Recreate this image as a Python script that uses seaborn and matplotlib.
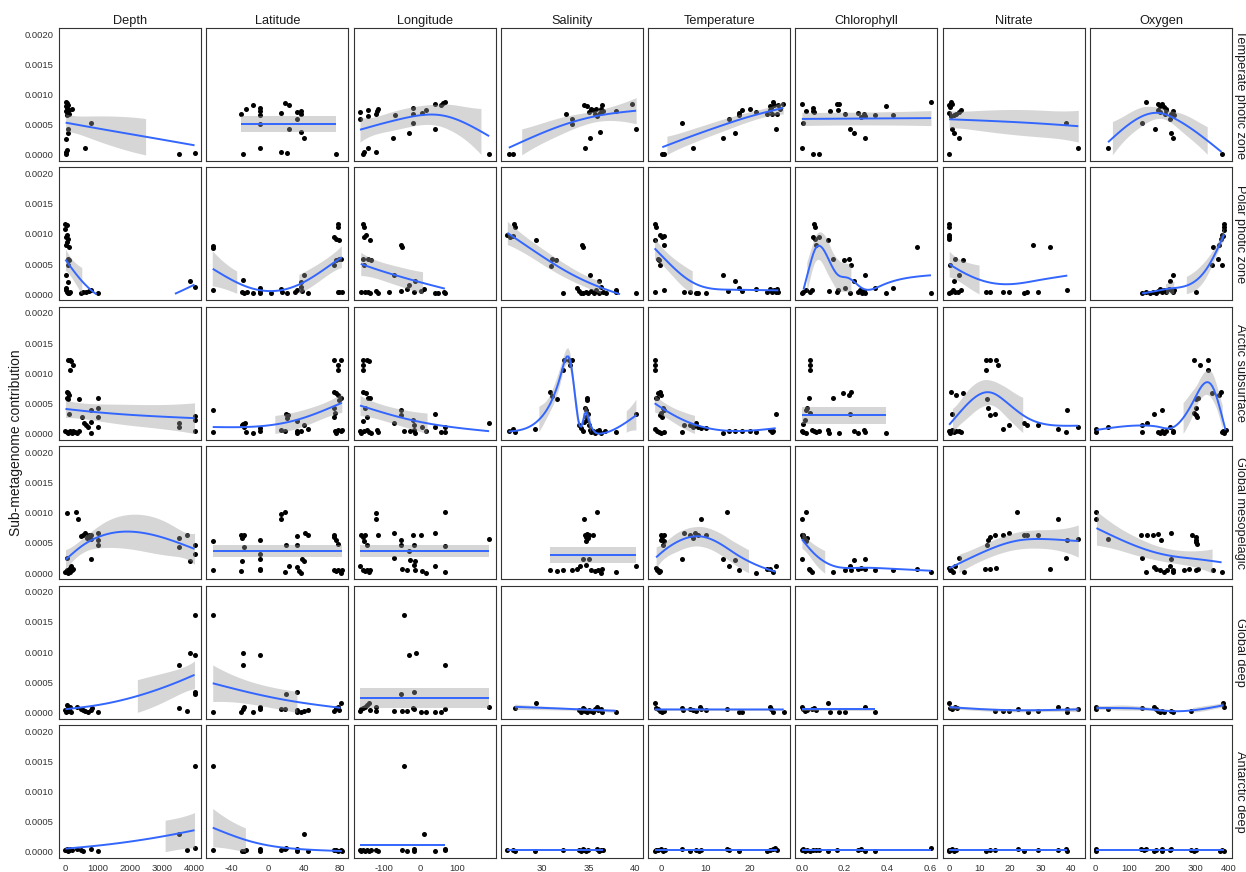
import numpy as np
import pandas as pd
import matplotlib
matplotlib.use("Agg")
import matplotlib.pyplot as plt
import seaborn as sns

# ---------------------------------------------------------------------------
# Data: (environmental value, contribution in units of 1e-4) per panel
# ---------------------------------------------------------------------------
SCALE = 1e-4

zones = ["Temperate photic zone", "Polar photic zone", "Arctic subsurface",
         "Global mesopelagic", "Global deep", "Antarctic deep"]
variables = ["Depth", "Latitude", "Longitude", "Salinity", "Temperature",
             "Chlorophyll", "Nitrate", "Oxygen"]

# Temperate photic zone
temperate_depth = [(5, 8.83), (40, 8.6), (80, 8.28), (10, 8.07), (40, 7.74), (100, 7.52), (10, 7.3),
                   (60, 7.08), (110, 6.81), (190, 7.63), (40, 6.54), (77, 4.25), (77, 3.7), (13, 2.7),
                   (40, 0.76), (13, 0.44), (5, 0.16), (600, 1.09), (805, 5.23), (3515, 0.11), (4000, 0.33)]
temperate_lat = [(-30.2, 6.76), (-24.7, 7.63), (-16.5, 8.28), (-8.2, 7.74), (-8.2, 7.19), (-8.2, 6.54),
                 (-8.2, 5.18), (-8.2, 1.09), (-27.4, 0.11), (14.6, 6.87), (14.6, 0.54), (21.5, 0.33),
                 (19.2, 8.61), (23.8, 8.28), (23.8, 4.25), (32, 5.99), (32.9, 7.08), (36.6, 7.3),
                 (36.6, 6.76), (36.6, 3.81), (39.8, 2.83), (75.9, 0.11)]
temperate_lon = [(-166, 7.08), (-166, 5.99), (-145, 6.43), (-145, 7.52), (-119, 7.19), (-117, 7.63),
                 (-122, 6.81), (-158, 0.22), (-155, 0.44), (-145, 1.09), (-121, 0.54), (-76, 2.83),
                 (-71, 6.54), (-31, 3.7), (-20, 7.74), (-20, 6.81), (-20, 5.23), (4.5, 6.97), (13.5, 7.36),
                 (38, 8.39), (38, 4.36), (55, 8.28), (61, 8.55), (66, 8.72), (187, 0.11)]
temperate_sal = [(26.5, 0.11), (26.9, 0.11), (32.6, 6.81), (33.2, 5.99), (33.3, 5.18), (34.5, 8.28),
                 (34.6, 1.09), (34.85, 8.17), (35.1, 7.08), (35.15, 2.83), (35.3, 7.63), (35.5, 7.36),
                 (35.7, 6.81), (35.86, 7.63), (35.95, 6.43), (36.2, 3.81), (36.2, 6.97), (36.4, 7.63),
                 (36.5, 8.28), (36.6, 7.19), (37.9, 7.3), (39.7, 8.39), (40.1, 4.36)]
temperate_temp = [(0.26, 0.11), (0.6, 0.11), (4.63, 5.23), (7.25, 1.09), (14.06, 2.83), (15.3, 5.99),
                  (16.7, 3.7), (17.5, 6.65), (17.7, 6.97), (18.3, 7.36), (20.1, 7.63), (21.4, 7.08),
                  (24.0, 6.81), (24.7, 8.07), (24.9, 7.74), (25.3, 8.72), (25.6, 8.28), (24.5, 7.36),
                  (25.1, 6.81), (25.9, 4.36), (26.3, 6.81), (26.5, 8.28), (26.8, 7.63), (27.6, 8.39)]
temperate_chl = [(0.0, 8.39), (0.018, 7.3), (0.054, 7.85), (0.05, 7.19), (0.057, 7.08), (0.004, 5.23),
                 (0.0, 1.09), (0.054, 0.11), (0.079, 0.11), (0.133, 7.3), (0.165, 8.39), (0.169, 7.52),
                 (0.174, 8.39), (0.2, 6.81), (0.225, 4.36), (0.246, 3.7), (0.264, 6.97), (0.277, 6.21),
                 (0.29, 6.81), (0.295, 6.43), (0.296, 2.83), (0.34, 6.54), (0.393, 8.17), (0.424, 6.65),
                 (0.604, 8.72)]
temperate_nit = [(0, 8.28), (0.4, 7.9), (0.76, 8.72), (1.0, 8.39), (0, 6.97), (0.6, 6.43), (1.5, 6.54),
                 (2.3, 6.81), (3.2, 7.08), (3.8, 7.52), (1.0, 4.36), (1.5, 3.7), (3.3, 2.83), (0, 0.11),
                 (38.4, 5.23), (42.3, 1.09)]
temperate_oxy = [(37.4, 1.09), (140, 5.23), (152, 8.72), (178, 4.36), (187, 8.39), (193, 8.17), (199, 8.39),
                 (205, 7.9), (187, 7.52), (193, 7.08), (211, 7.63), (208, 6.81), (213, 7.36), (225, 5.99),
                 (228, 6.81), (234, 7.19), (236, 6.54), (226, 3.7), (232, 2.83), (380, 0.11)]

# Polar photic zone
polar_depth = [(0, 11.67), (38, 11.4), (0, 10.85), (38, 9.86), (13, 9.48), (64, 9.1), (38, 8.66), (13, 8.22),
               (100, 7.84), (77, 5.92), (100, 5.64), (64, 4.82), (5, 3.18), (77, 2.08), (5, 0.99), (13, 0.71),
               (38, 0.44), (77, 0.27), (100, 0.16), (150, 0.44), (486, 0.16), (550, 0.33), (640, 0.44),
               (716, 0.55), (805, 0.71), (997, 0.16), (3847, 2.25), (4000, 1.26)]
polar_lat = [(-61.2, 8.0), (-61.2, 7.67), (-61.2, 0.66), (-27.9, 2.3), (-28.8, 0.44), (-26.5, 0.16),
             (-23.3, 0.44), (-16.5, 0.16), (-9.1, 1.1), (-8.2, 0.55), (-8.2, 0.16), (3.2, 0.16), (14.6, 0.88),
             (15.5, 0.33), (21.5, 0.16), (30.6, 0.44), (32.9, 0.77), (36.6, 2.08), (36.6, 1.26), (39.8, 3.18),
             (37.5, 0.55), (44.3, 0.27), (74, 9.48), (76.3, 9.2), (77.7, 11.67), (78.6, 11.1), (79.5, 8.93),
             (74, 4.82), (76.3, 5.64), (79.5, 5.92), (81.3, 5.92), (77.7, 0.44), (79.5, 0.44), (82.3, 0.44)]
polar_lon = [(-157, 11.67), (-155, 11.1), (-155, 9.48), (-149, 9.75), (-138, 9.04), (-157, 5.92),
             (-155, 4.82), (-144, 5.81), (-136, 5.75), (-164, 0.44), (-153, 0.33), (-144, 0.44), (-138, 0.16),
             (-121, 0.55), (-117, 0.16), (-88, 0.44), (-74, 3.18), (-54, 8.22), (-52, 7.84), (-54, 0.55),
             (-37, 0.88), (-31, 1.53), (-18, 0.33), (-15, 2.19), (2, 0.55), (10, 0.88), (38, 0.16),
             (47, 0.27), (63, 0.44), (66, 0.27)]
polar_sal = [(26.34, 9.75), (26.6, 9.48), (27.05, 11.6), (27.14, 11.1), (26.9, 9.64), (29.43, 8.93),
             (31.0, 4.71), (31.1, 5.92), (31.54, 5.75), (32.33, 0.27), (34.27, 8.22), (34.4, 7.84),
             (35.15, 3.18), (36.17, 2.19), (36.3, 1.26), (33.83, 0.99), (33.96, 0.55), (34.18, 0.27),
             (34.4, 0.16), (34.7, 0.44), (34.98, 0.16), (35.29, 0.55), (35.6, 0.27), (35.86, 0.71),
             (36.17, 0.27), (36.6, 0.44), (36.9, 0.16), (37.93, 0.71), (37.93, 0.44), (40.13, 0.27)]
polar_temp = [(-1.31, 11.67), (-1.14, 11.1), (-0.26, 9.86), (0.26, 9.48), (0.6, 9.64), (-1.48, 8.93),
              (0.6, 8.22), (-0.6, 5.92), (-0.44, 5.64), (-0.26, 4.82), (-1.31, 0.33), (0.6, 0.71), (5.07, 0.33),
              (6.55, 0.44), (7.86, 0.16), (8.3, 0.16), (10.2, 0.27), (14.06, 3.18), (15.1, 0.55), (16.7, 2.19),
              (17.5, 1.1), (18.3, 0.55), (21.4, 0.88), (24.0, 0.44), (24.7, 0.88), (25.1, 0.33), (25.6, 0.71),
              (25.9, 0.44), (26.3, 0.88), (26.5, 0.44)]
polar_chl = [(0, 0.16), (0.007, 0.44), (0.018, 0.71), (0.036, 0.33), (0.049, 0.71), (0.057, 11.67),
             (0.061, 11.1), (0.054, 9.48), (0.061, 9.2), (0.079, 9.48), (0.066, 8.22), (0.12, 8.93),
             (0.126, 0.55), (0.147, 5.81), (0.162, 0.44), (0.169, 0.71), (0.201, 1.1), (0.198, 5.64),
             (0.219, 5.92), (0.228, 4.82), (0.225, 0.27), (0.246, 2.19), (0.264, 0.44), (0.273, 0.71),
             (0.282, 0.27), (0.29, 0.55), (0.296, 3.18), (0.296, 0.16), (0.34, 0.99), (0.393, 0.16),
             (0.424, 1.1), (0.539, 7.84), (0.604, 0.27)]
polar_nit = [(0, 11.67), (0, 11.1), (0, 9.86), (0, 9.48), (0, 9.2), (0.38, 4.82), (2.0, 5.92), (4.6, 5.75),
             (3.3, 3.18), (1.5, 2.19), (0, 0.16), (0.6, 0.44), (1.3, 0.71), (1.9, 0.33), (2.8, 0.44),
             (3.8, 0.71), (12.1, 0.33), (13.3, 0.33), (17.8, 0.33), (19.7, 0.33), (24.4, 0.16), (25.4, 0.44),
             (29, 0.33), (27.4, 8.22), (33, 7.84), (38.7, 0.71)]
polar_oxy = [(140, 0.16), (152, 0.33), (164, 0.16), (173, 0.44), (181, 0.27), (187, 0.55), (193, 0.88),
             (199, 0.44), (205, 0.71), (211, 0.44), (222, 0.88), (228, 0.71), (234, 0.44), (225, 2.19),
             (232, 3.18), (236, 0.71), (304, 0.33), (354, 7.84), (372, 8.22), (351, 4.82), (368, 5.92),
             (380, 4.82), (377, 9.2), (384, 9.64), (386, 11.1), (386, 11.67), (380, 9.86), (388, 10.6)]

# Arctic subsurface
arctic_depth = [(77, 12.16), (141, 12.16), (166, 12.1), (230, 11.34), (141, 10.52), (38, 6.96), (77, 6.68),
                (100, 6.41), (38, 5.97), (77, 5.75), (100, 3.23), (0, 0.49), (38, 0.27), (77, 0.11),
                (141, 0.38), (192, 0.16), (230, 0.49), (294, 0.27), (358, 0.11), (422, 0.49), (422, 5.7),
                (511, 2.85), (588, 1.75), (640, 1.48), (703, 1.2), (805, 1.92), (805, 0.11), (805, 3.95),
                (1022, 5.86), (1022, 4.22), (997, 2.85), (997, 1.04), (3515, 1.75), (3515, 1.2),
                (4000, 3.01), (4000, 2.3), (4000, 0.38)]
arctic_lat = [(-61.2, 3.95), (-61.2, 0.27), (-28.8, 1.37), (-27.4, 1.59), (-25.6, 1.75), (-26.5, 1.04),
              (-24.2, 0.27), (-16.5, 0.11), (-8.2, 0.38), (-8.2, 0.93), (14.6, 0.66), (19.2, 0.38),
              (20.6, 3.23), (22.9, 3.12), (21.5, 2.58), (32, 2.14), (32, 0.38), (32.9, 0.11), (36.6, 0.49),
              (39.8, 1.37), (44.3, 0.77), (74, 12.16), (80.9, 12.16), (78.6, 11.34), (78.6, 10.52),
              (74, 6.96), (76.3, 6.68), (78.6, 6.41), (80.9, 5.97), (79.5, 5.59), (74, 4.22), (75, 3.4),
              (74, 2.85), (75, 0.38), (76.3, 0.11), (78.6, 0.66), (80.9, 0.38), (82.3, 0.66)]
arctic_lon = [(-157, 12.16), (-147, 12.16), (-142, 12.05), (-157, 11.34), (-157, 10.52), (-157, 6.96),
              (-149, 6.68), (-144, 5.97), (-138, 5.86), (-153, 4.22), (-147, 2.85), (-157, 2.03),
              (-166, 0.49), (-162, 0.11), (-155, 0.38), (-147, 0.66), (-142, 0.27), (-136, 0.11),
              (-119, 0.66), (-117, 0.27), (-74, 1.75), (-54, 3.95), (-54, 3.12), (-46, 0.49), (-29, 0.38),
              (-20, 2.3), (-18, 1.37), (-18, 0.66), (-15, 0.11), (4.5, 1.2), (13.5, 0.38), (38, 3.23),
              (40, 1.2), (55, 0.27), (66, 1.2), (66, 0.27), (187, 1.75)]
arctic_sal = [(26.48, 0.38), (26.9, 0.77), (27.14, 0.27), (29.34, 0.77), (30.88, 6.85), (31.1, 6.3),
              (31.63, 5.75), (32.33, 10.52), (32.42, 12.16), (32.95, 12.16), (33.08, 11.34), (33.3, 12.16),
              (33.96, 1.48), (34.18, 0.93), (34.4, 0.38), (34.6, 4.22), (34.7, 3.95), (34.85, 5.86),
              (34.98, 3.23), (34.7, 2.85), (34.85, 2.3), (34.54, 1.92), (35.07, 1.48), (35.15, 0.66),
              (35.29, 0.27), (35.5, 0.49), (35.7, 0.11), (35.95, 0.38), (36.17, 0.66), (36.4, 0.11),
              (36.8, 0.38), (37.93, 0.27), (40.13, 3.23), (34.85, 5.59)]
arctic_temp = [(-1.31, 12.16), (-1.31, 11.34), (-1.31, 10.52), (-0.6, 6.68), (-0.26, 6.96), (0, 6.41),
               (-0.87, 5.97), (-1.14, 5.86), (0.44, 4.22), (0, 3.4), (-0.26, 3.12), (0.26, 2.85), (0.6, 3.95),
               (-1.48, 0.77), (-0.87, 0.49), (-0.44, 0.27), (0, 0.11), (0.6, 0.27), (4.63, 0.27), (5.07, 1.48),
               (6.55, 1.48), (7.25, 1.2), (7.86, 1.75), (8.3, 1.2), (9.0, 0.93), (10.2, 0.93), (14.06, 0.11),
               (15.3, 0.38), (16.7, 0.49), (18.3, 0.49), (20.1, 0.38), (21.4, 0.27), (24.7, 0.66),
               (25.1, 0.27), (25.3, 0.49), (25.9, 3.23)]
arctic_chl = [(0, 0.49), (0.007, 0.27), (0.018, 0.11), (0.004, 1.59), (0.013, 2.3), (0.018, 3.95),
              (0.025, 4.22), (0.031, 5.86), (0.036, 12.16), (0.036, 11.34), (0.036, 10.52), (0.04, 3.4),
              (0.049, 0.66), (0.057, 0.38), (0.066, 0.27), (0.079, 0.49), (0.12, 0.66), (0.129, 0.11),
              (0.147, 5.86), (0.174, 0.11), (0.192, 6.68), (0.219, 6.41), (0.228, 6.85), (0.225, 3.23),
              (0.246, 0.49), (0.264, 0.11), (0.29, 0.66), (0.296, 0.27), (0.393, 0.11)]
arctic_nit = [(0, 0.49), (0.25, 0.11), (0.6, 0.38), (1.0, 0.66), (1.5, 0.27), (2.3, 0.49), (3.2, 0.38),
              (3.8, 0.27), (0.6, 6.85), (2.3, 6.41), (4.4, 6.68), (1.0, 3.23), (12.1, 12.16), (13.3, 12.16),
              (15.2, 12.16), (12.1, 10.52), (15.9, 11.34), (12.4, 5.75), (12.7, 4.22), (13.3, 3.12),
              (15.0, 3.23), (17.8, 0.82), (19.7, 1.48), (24.4, 1.75), (25.4, 1.48), (29, 1.48), (35.6, 0.82),
              (38.4, 0.27), (38.7, 3.95), (42.3, 1.2)]
arctic_oxy = [(2.3, 0.82), (2.3, 0.27), (37.4, 1.2), (140, 1.48), (140, 0.27), (154, 1.75), (175, 3.23),
              (201, 3.95), (187, 0.27), (193, 0.11), (199, 0.38), (205, 0.11), (211, 0.49), (225, 1.2),
              (232, 0.49), (234, 0.27), (298, 12.16), (316, 11.34), (339, 12.16), (339, 10.52), (298, 3.4),
              (302, 3.12), (307, 2.85), (304, 4.33), (304, 5.75), (310, 5.97), (351, 6.68), (372, 6.41),
              (377, 6.85), (380, 0.27), (384, 0.49), (388, 0.11), (392, 0.66)]

# Global mesopelagic
meso_depth = [(38, 9.89), (332, 10.16), (383, 8.91), (38, 2.51), (38, 0.44), (0, 0.22), (64, 0.33),
              (102, 0.6), (141, 0.87), (166, 1.15), (230, 0.77), (77, 0.05), (141, 0.16), (192, 0.44),
              (486, 6.07), (550, 6.34), (613, 6.61), (677, 5.79), (741, 6.23), (805, 5.68), (805, 6.23),
              (805, 2.4), (703, 5.9), (1022, 6.61), (1022, 5.52), (1022, 4.7), (3515, 5.79), (3515, 4.26),
              (3770, 6.34), (3847, 1.97), (4000, 4.7), (4000, 3.17)]
meso_lat = [(-61.2, 5.25), (-61.2, 0.6), (-29.7, 6.34), (-28.8, 5.79), (-27.4, 6.07), (-26.5, 6.23),
            (-26.5, 4.26), (-28.8, 1.97), (-29.7, 0.33), (-8.2, 5.52), (-8.2, 3.17), (-8.2, 2.4), (-8.2, 0.77),
            (-8.2, 0.6), (14.6, 9.73), (19.2, 10.16), (14.6, 8.91), (20.6, 4.7), (19.2, 0.22), (23.8, 1.15),
            (32, 6.07), (32, 4.59), (32, 0.98), (35.2, 0.33), (36.6, 0.05), (38.4, 2.4), (41.1, 6.61),
            (44.3, 6.34), (39.8, 2.08), (73.1, 6.34), (74, 5.9), (76.3, 5.52), (78.6, 4.81), (74, 0.6),
            (76.3, 0.33), (78.6, 0.44), (80.9, 0.05), (82.3, 0.6)]
meso_lon = [(-164, 6.34), (-158, 5.9), (-153, 6.23), (-155, 5.25), (-147, 4.7), (-166, 1.15), (-158, 0.6),
            (-153, 0.33), (-147, 0.6), (-142, 0.22), (-138, 0.44), (-121, 9.89), (-121, 8.91), (-117, 6.23),
            (-74, 6.61), (-74, 2.51), (-54, 5.52), (-54, 4.7), (-52, 0.77), (-37, 0.6), (-31, 3.61),
            (-29, 2.24), (-20, 6.23), (-18, 4.7), (-18, 1.42), (-15, 2.08), (-15, 0.44), (2, 6.23),
            (4.5, 0.33), (13.5, 0.05), (38, 6.61), (38, 1.15), (66, 10.16), (66, 4.43), (66, 0.22),
            (187, 5.63)]
meso_sal = [(30.88, 0.44), (31.63, 0.33), (32.33, 0.6), (33.2, 0.44), (33.83, 0.77), (34.1, 1.15),
            (34.4, 2.4), (34.54, 8.91), (34.6, 6.34), (34.7, 5.9), (34.85, 6.45), (34.98, 5.79),
            (35.07, 6.23), (34.7, 5.25), (35.07, 2.4), (35.29, 0.44), (35.5, 6.34), (35.95, 10.16),
            (35.7, 0.33), (36.04, 0.6), (36.3, 0.05), (36.48, 0.77), (37.9, 0.22), (40.13, 1.26),
            (34.7, 1.42)]
meso_temp = [(-1.14, 0.87), (-0.87, 0.6), (-0.6, 0.44), (-0.44, 0.22), (-0.26, 0.33), (0, 6.34),
             (0.26, 5.9), (0.6, 6.23), (0, 5.52), (0.6, 5.25), (0.44, 4.7), (4.63, 2.4), (5.07, 6.61),
             (6.55, 6.34), (7.25, 5.79), (7.6, 6.61), (8.3, 6.23), (9.0, 8.91), (10.2, 6.34), (14.9, 10.16),
             (14.06, 2.4), (15.3, 1.15), (16.7, 2.24), (17.7, 0.44), (21.4, 0.05), (24, 0.77), (24.7, 0.77),
             (25.3, 0.22), (25.9, 1.26)]
meso_chl = [(0, 8.91), (0.018, 10.16), (0, 6.34), (0.004, 5.9), (0.007, 6.23), (0.013, 5.52), (0.018, 5.25),
            (0.025, 5.79), (0, 2.4), (0.031, 0.77), (0.04, 0.44), (0.049, 0.22), (0.147, 0.22), (0.201, 0.44),
            (0.228, 0.44), (0.225, 1.15), (0.246, 2.24), (0.264, 0.77), (0.277, 0.87), (0.296, 2.4),
            (0.295, 0.77), (0.34, 0.44), (0.424, 0.44), (0.539, 0.77), (0.604, 0.22)]
meso_nit = [(0, 0.87), (0.4, 0.6), (0.76, 0.44), (1.3, 0.22), (1.9, 1.15), (3.3, 2.51), (4.8, 0.22),
            (11.8, 0.71), (13.3, 0.71), (15.2, 0.87), (12.4, 4.7), (12.7, 5.52), (13.3, 5.9), (15.0, 6.34),
            (17.8, 6.34), (19.7, 6.61), (22.2, 10.16), (24.4, 6.23), (25.4, 6.23), (29, 6.23), (33, 0.71),
            (35.6, 8.91), (38.4, 2.51), (38.7, 5.52), (42.3, 5.63)]
meso_oxy = [(2.3, 10.16), (2.3, 8.91), (37.4, 5.63), (140, 2.51), (138, 6.23), (154, 6.23), (173, 6.34),
            (187, 6.45), (197, 5.52), (228, 6.61), (152, 0.22), (175, 0.98), (181, 0.77), (193, 0.44),
            (205, 0.22), (216, 0.6), (225, 1.15), (228, 2.4), (232, 0.44), (234, 0.22), (267, 0.6),
            (283, 0.77), (304, 0.6), (310, 0.71), (292, 6.34), (302, 5.9), (304, 5.52), (307, 4.81),
            (304, 5.14), (353, 0.44), (380, 0.22)]

# Global deep
deep_depth = [(0, 0.44), (13, 0.16), (38, 1.26), (64, 0.27), (77, 0.82), (102, 0.6), (141, 0.98),
              (166, 0.16), (371, 0.98), (486, 0.6), (550, 0.44), (613, 0.27), (703, 0.16), (780, 0.44),
              (831, 0.71), (1022, 0.16), (3515, 7.92), (3515, 0.82), (3770, 0.27), (3847, 9.89),
              (4000, 16.17), (4000, 9.56), (4000, 3.44), (4000, 3.0)]
deep_lat = [(-61.2, 16.17), (-61.2, 0.16), (-27.9, 9.89), (-27.4, 7.92), (-29.7, 0.16), (-27.9, 0.6),
            (-26.5, 0.98), (-16.5, 0.05), (-9.1, 9.56), (-8.2, 0.98), (-8.2, 0.6), (14.6, 0.6), (19.2, 0.6),
            (20.6, 3.0), (32, 3.44), (32, 0.16), (32.9, 0.44), (36.6, 0.05), (39.8, 0.27), (44.3, 0.44),
            (74, 0.27), (76.3, 0.82), (78.6, 0.98), (80.9, 1.53), (79.5, 0.44)]
deep_lon = [(-166, 0.27), (-162, 0.6), (-157, 0.82), (-153, 0.98), (-147, 1.26), (-142, 1.53), (-138, 0.44),
            (-121, 0.27), (-121, 0.98), (-74, 0.27), (-54, 3.0), (-52, 0.27), (-46, 16.17), (-37, 0.27),
            (-31, 9.56), (-20, 0.82), (-18, 0.6), (-18, 3.44), (-12, 9.89), (2, 0.16), (13.5, 0.16),
            (38, 0.16), (55, 0.16), (66, 7.92), (66, 0.6), (187, 0.98)]
deep_sal = [(27.14, 0.82), (29.43, 1.53), (33.96, 0.44), (34.18, 0.16), (34.4, 0.82), (34.54, 0.6),
            (34.6, 0.27), (34.85, 0.16), (35.07, 0.44), (35.29, 0.27), (35.5, 0.16), (35.7, 0.6),
            (35.95, 0.98), (36.04, 0.44), (36.3, 0.6), (36.48, 0.16), (37.93, 0.05)]
deep_temp = [(-1.48, 1.53), (-1.14, 0.82), (-0.6, 0.6), (-0.26, 0.27), (0.26, 0.16), (0.6, 0.27), (4.8, 0.82),
             (5.0, 0.44), (6.55, 0.6), (7.25, 0.44), (7.86, 0.27), (8.73, 0.98), (9.0, 0.6), (10.2, 0.44),
             (14.9, 0.6), (17.5, 0.16), (18.3, 0.05), (24.7, 0.98), (24.9, 0.6), (25.3, 0.16), (27.7, 0.05)]
deep_chl = [(0, 0.98), (0.004, 0.6), (0.013, 0.27), (0.022, 0.44), (0.049, 0.6), (0.057, 0.82),
            (0.066, 0.44), (0.12, 1.53), (0.133, 0.05), (0.174, 0.05), (0.201, 0.05), (0.296, 0.98),
            (0.34, 0.05)]
deep_nit = [(0, 1.53), (0.38, 0.82), (1.0, 0.6), (1.9, 0.98), (2.5, 0.71), (15.0, 0.27), (17.8, 0.27),
            (19.7, 0.27), (22.6, 0.6), (25.8, 0.05), (29.2, 0.27), (35.6, 0.98), (38.7, 0.6), (38.7, 0.16),
            (42.3, 0.6)]
deep_oxy = [(2.3, 0.98), (2.3, 0.6), (37.4, 0.6), (140, 0.82), (175, 0.98), (181, 0.6), (187, 0.27),
            (193, 0.16), (199, 0.27), (205, 0.05), (228, 0.27), (234, 0.05), (287, 0.27), (384, 1.53),
            (386, 0.98)]

# Antarctic deep
antarctic_depth = [(5, 0.38), (0, 0.27), (38, 0.49), (64, 0.11), (102, 0.38), (141, 0.49), (192, 0.27),
                   (358, 0.49), (486, 0.27), (550, 0.11), (805, 0.49), (1022, 0.11), (3515, 2.9),
                   (3770, 0.38), (4000, 14.19), (4000, 0.66)]
antarctic_lat = [(-61.2, 14.19), (-61.2, 0.27), (-28.8, 0.11), (-26.5, 0.11), (-24.2, 0.27), (-8.2, 0.49),
                 (-8.2, 0.11), (14.6, 0.27), (19.2, 0.49), (20.6, 0.66), (32, 0.49), (32.9, 0.11),
                 (39.8, 2.9), (44.3, 0.11), (74, 0.38), (76.3, 0.27), (78.6, 0.11), (80.9, 0.27), (82.3, 0.11)]
antarctic_lon = [(-166, 0.38), (-162, 0.11), (-157, 0.27), (-153, 0.11), (-147, 0.38), (-142, 0.11),
                 (-136, 0.27), (-121, 0.38), (-117, 0.11), (-52, 0.27), (-46, 14.19), (-37, 0.11),
                 (-18, 0.49), (-18, 0.11), (10, 2.9), (38, 0.11), (66, 0.49), (66, 0.27)]
antarctic_sal = [(26.34, 0.38), (26.9, 0.27), (27.14, 0.11), (29.34, 0.11), (32.33, 0.27), (33.96, 0.27),
                 (34.18, 0.11), (34.4, 0.49), (34.54, 0.27), (34.7, 0.11), (34.98, 0.38), (35.95, 0.49),
                 (36.17, 0.11), (36.4, 0.27), (36.6, 0.38)]
antarctic_temp = [(-1.48, 0.11), (-1.14, 0.27), (-0.6, 0.38), (0, 0.49), (0.44, 0.11), (0.87, 0.27),
                  (4.63, 0.49), (6.55, 0.11), (7.86, 0.27), (8.47, 0.11), (9.0, 0.27), (14.9, 0.49),
                  (15.3, 0.27), (17.7, 0.11), (24, 0.11), (24.7, 0.27), (25.3, 0.49), (25.8, 0.6), (26.2, 0.38)]
antarctic_chl = [(0, 0.27), (0.004, 0.49), (0.013, 0.11), (0.022, 0.38), (0.036, 0.11), (0.054, 0.27),
                 (0.066, 0.38), (0.079, 0.27), (0.12, 0.11), (0.162, 0.38), (0.264, 0.27), (0.277, 0.49),
                 (0.296, 0.11), (0.34, 0.11), (0.604, 0.6)]
antarctic_nit = [(0, 0.27), (0, 0.11), (0.38, 0.38), (1.0, 0.49), (1.5, 0.11), (2.3, 0.27), (12.1, 0.11),
                 (13.3, 0.27), (15.0, 0.38), (22.6, 0.49), (24.4, 0.11), (29.2, 0.27), (35.6, 0.27),
                 (38.4, 0.49), (38.7, 0.11)]
antarctic_oxy = [(2.3, 0.49), (2.3, 0.11), (138, 0.49), (146, 0.27), (152, 0.49), (175, 0.11), (181, 0.27),
                 (199, 0.49), (201, 0.11), (225, 0.27), (228, 0.49), (287, 0.38), (298, 0.11), (304, 0.27),
                 (374, 0.11), (380, 0.38), (388, 0.11)]

# Axis ticks
x_ticks = {
    "Depth": [0, 1000, 2000, 3000, 4000],
    "Latitude": [-40, 0, 40, 80],
    "Longitude": [-100, 0, 100],
    "Salinity": [30, 35, 40],
    "Temperature": [0, 10, 20],
    "Chlorophyll": [0.0, 0.2, 0.4, 0.6],
    "Nitrate": [0, 10, 20, 30, 40],
    "Oxygen": [0, 100, 200, 300, 400],
}
x_tick_labels = {
    "Depth": ["0", "1000", "2000", "3000", "4000"],
    "Latitude": ["-40", "0", "40", "80"],
    "Longitude": ["-100", "0", "100"],
    "Salinity": ["30", "35", "40"],
    "Temperature": ["0", "10", "20"],
    "Chlorophyll": ["0.0", "0.2", "0.4", "0.6"],
    "Nitrate": ["0", "10", "20", "30", "40"],
    "Oxygen": ["0", "100", "200", "300", "400"],
}
y_ticks = [0.0, 0.0005, 0.0010, 0.0015, 0.0020]
y_tick_labels = ["0.0000", "0.0005", "0.0010", "0.0015", "0.0020"]
Y_LIMITS = (0.0, 0.0020)          # scale limits (values outside are dropped)
Y_VIEW = (-0.0001, 0.0021)        # limits plus 5% expansion

panel_sets = {
    "Temperate photic zone": [temperate_depth, temperate_lat, temperate_lon, temperate_sal,
                              temperate_temp, temperate_chl, temperate_nit, temperate_oxy],
    "Polar photic zone": [polar_depth, polar_lat, polar_lon, polar_sal,
                          polar_temp, polar_chl, polar_nit, polar_oxy],
    "Arctic subsurface": [arctic_depth, arctic_lat, arctic_lon, arctic_sal,
                          arctic_temp, arctic_chl, arctic_nit, arctic_oxy],
    "Global mesopelagic": [meso_depth, meso_lat, meso_lon, meso_sal,
                           meso_temp, meso_chl, meso_nit, meso_oxy],
    "Global deep": [deep_depth, deep_lat, deep_lon, deep_sal,
                    deep_temp, deep_chl, deep_nit, deep_oxy],
    "Antarctic deep": [antarctic_depth, antarctic_lat, antarctic_lon, antarctic_sal,
                       antarctic_temp, antarctic_chl, antarctic_nit, antarctic_oxy],
}

records = []
for zone in zones:
    for var, pts in zip(variables, panel_sets[zone]):
        for xv, yv in pts:
            records.append({"zone": zone, "variable": var, "value": xv, "contribution": yv * SCALE})
df = pd.DataFrame(records)


# ---------------------------------------------------------------------------
# Penalised cubic regression spline smoother with shrinkage
# (smoothing parameter by GCV with an edf inflation factor)
# ---------------------------------------------------------------------------
GCV_GAMMA = 1.5


def cr_design(x, knots):
    k = len(knots)
    h = np.diff(knots)
    D = np.zeros((k - 2, k))
    B = np.zeros((k - 2, k - 2))
    for i in range(k - 2):
        D[i, i] = 1.0 / h[i]
        D[i, i + 1] = -1.0 / h[i] - 1.0 / h[i + 1]
        D[i, i + 2] = 1.0 / h[i + 1]
        B[i, i] = (h[i] + h[i + 1]) / 3.0
        if i < k - 3:
            B[i, i + 1] = B[i + 1, i] = h[i + 1] / 6.0
    Fm = np.linalg.solve(B, D)
    F = np.vstack([np.zeros(k), Fm, np.zeros(k)])
    S = D.T @ Fm
    j = np.clip(np.searchsorted(knots, x, side="right") - 1, 0, k - 2)
    xl, xr, hj = knots[j], knots[j + 1], h[j]
    am = (xr - x) / hj
    ap = (x - xl) / hj
    cm = ((xr - x) ** 3 / hj - hj * (xr - x)) / 6.0
    cp = ((x - xl) ** 3 / hj - hj * (x - xl)) / 6.0
    X = cm[:, None] * F[j] + cp[:, None] * F[j + 1]
    rows = np.arange(len(x))
    X[rows, j] += am
    X[rows, j + 1] += ap
    return X, 0.5 * (S + S.T)


def t975(df_res):
    z = 1.959964
    d = max(df_res, 1.0)
    return (z + (z ** 3 + z) / (4 * d) + (5 * z ** 5 + 16 * z ** 3 + 3 * z) / (96 * d ** 2)
            + (3 * z ** 7 + 19 * z ** 5 + 17 * z ** 3 - 15 * z) / (384 * d ** 3))


def gam_smooth(x, y, k=10, n_out=80):
    x0, x1 = x.min(), x.max()
    u = (x - x0) / (x1 - x0)
    uniq = np.unique(u)
    k = min(k, len(uniq))
    knots = np.interp(np.linspace(0, len(uniq) - 1, k), np.arange(len(uniq)), uniq)
    Xb, S = cr_design(u, knots)
    ev, evec = np.linalg.eigh(S)
    ev = np.clip(ev, 0, None)
    ev[:2] = ev[2] * 0.1
    S = (evec * ev) @ evec.T
    C = Xb.sum(axis=0)[:, None]
    Q, _ = np.linalg.qr(C, mode="complete")
    Z = Q[:, 1:]
    X = np.column_stack([np.ones(len(u)), Xb @ Z])
    P = np.zeros((k, k))
    P[1:, 1:] = Z.T @ S @ Z
    XtX = X.T @ X
    ys = y / SCALE
    Xty = X.T @ ys
    n = len(ys)
    best = None
    for lg in np.arange(-8.0, 12.0, 0.05):
        lam = 10.0 ** lg
        A_inv = np.linalg.inv(XtX + lam * P)
        beta = A_inv @ Xty
        r = ys - X @ beta
        edf = np.trace(A_inv @ XtX)
        if n - GCV_GAMMA * edf <= 0:
            continue
        score = n * (r @ r) / (n - GCV_GAMMA * edf) ** 2
        if best is None or score < best[0]:
            best = (score, lam, beta, A_inv, edf)
    _, lam, beta, A_inv, edf = best
    r = ys - X @ beta
    phi = (r @ r) / max(n - edf, 1.0)
    Vp = A_inv * phi
    us = np.linspace(0, 1, n_out)
    Xp_b, _ = cr_design(us, knots)
    Xp = np.column_stack([np.ones(n_out), Xp_b @ Z])
    fit = Xp @ beta
    se = np.sqrt(np.einsum("ij,jk,ik->i", Xp, Vp, Xp))
    tq = t975(n - edf)
    xs = x0 + us * (x1 - x0)
    return xs, fit * SCALE, (fit - tq * se) * SCALE, (fit + tq * se) * SCALE


def draw_panel(data, x, y, color=None, label=None, **kws):
    ax = plt.gca()
    sns.scatterplot(data=data, x=x, y=y, ax=ax, color="black", s=13, linewidth=0,
                    zorder=2, legend=False)
    xs, fit, lo, hi = gam_smooth(data[x].to_numpy(float), data[y].to_numpy(float))
    band_ok = (lo >= Y_LIMITS[0]) & (hi <= Y_LIMITS[1])
    ax.fill_between(xs, lo, hi, where=band_ok, color="#999999", alpha=0.4,
                    linewidth=0, zorder=3)
    line = np.where((fit >= Y_LIMITS[0]) & (fit <= Y_LIMITS[1]), fit, np.nan)
    ax.plot(xs, line, color="#3366FF", lw=1.4, zorder=4, solid_capstyle="butt")


# ---------------------------------------------------------------------------
# Figure
# ---------------------------------------------------------------------------
sns.set_style("white")
plt.rcParams["font.family"] = ["Liberation Sans", "DejaVu Sans"]
plt.rcParams["axes.titlepad"] = 3.0

g = sns.FacetGrid(df, row="zone", col="variable", row_order=zones, col_order=variables,
                  sharex="col", sharey=True, margin_titles=True, despine=False,
                  height=1.33, aspect=142 / 133)
g.map_dataframe(draw_panel, x="value", y="contribution")
g.set_axis_labels("", "")
g.set_titles(row_template="", col_template="{col_name}", size=9.2, color="#1A1A1A")

fig = g.figure
fig.set_size_inches(12.46, 8.72)

for c, var in enumerate(variables):
    vals = df.loc[df["variable"] == var, "value"]
    lo, hi = vals.min(), vals.max()
    pad = 0.05 * (hi - lo)
    bottom_ax = g.axes[-1, c]
    bottom_ax.set_xlim(lo - pad, hi + pad)
    bottom_ax.set_xticks(x_ticks[var])
    bottom_ax.set_xticklabels(x_tick_labels[var])

g.axes[0, 0].set_ylim(*Y_VIEW)
g.axes[0, 0].set_yticks(y_ticks)
g.axes[0, 0].set_yticklabels(y_tick_labels)

n_rows, n_cols = g.axes.shape
for r in range(n_rows):
    for c in range(n_cols):
        ax = g.axes[r, c]
        for sp in ax.spines.values():
            sp.set_visible(True)
            sp.set_color("#333333")
            sp.set_linewidth(0.8)
        ax.grid(False)
        ax.tick_params(axis="both", direction="out", width=0.6, length=2.5,
                       labelsize=6.8, colors="#333333", pad=1.5)
        if c != 0:
            ax.tick_params(axis="y", length=0, labelleft=False)
        if r != n_rows - 1:
            ax.tick_params(axis="x", length=0, labelbottom=False)
    # row strip label on the right-hand side
    right_ax = g.axes[r, -1]
    right_ax.text(1 + 8.5 / 142, 0.5, zones[r], transform=right_ax.transAxes,
                  rotation=270, ha="center", va="center", fontsize=9.2, color="#1A1A1A")

fig.subplots_adjust(left=59 / 1246, right=1232 / 1246, top=1 - 28 / 872, bottom=1 - 858 / 872,
                    wspace=0.0373, hspace=0.048)
fig.text(16 / 1246, 1 - 443 / 872, "Sub-metagenome contribution", rotation=90,
         ha="center", va="center", fontsize=10, color="#1A1A1A")

fig.savefig("out.png", dpi=100, facecolor="white")
